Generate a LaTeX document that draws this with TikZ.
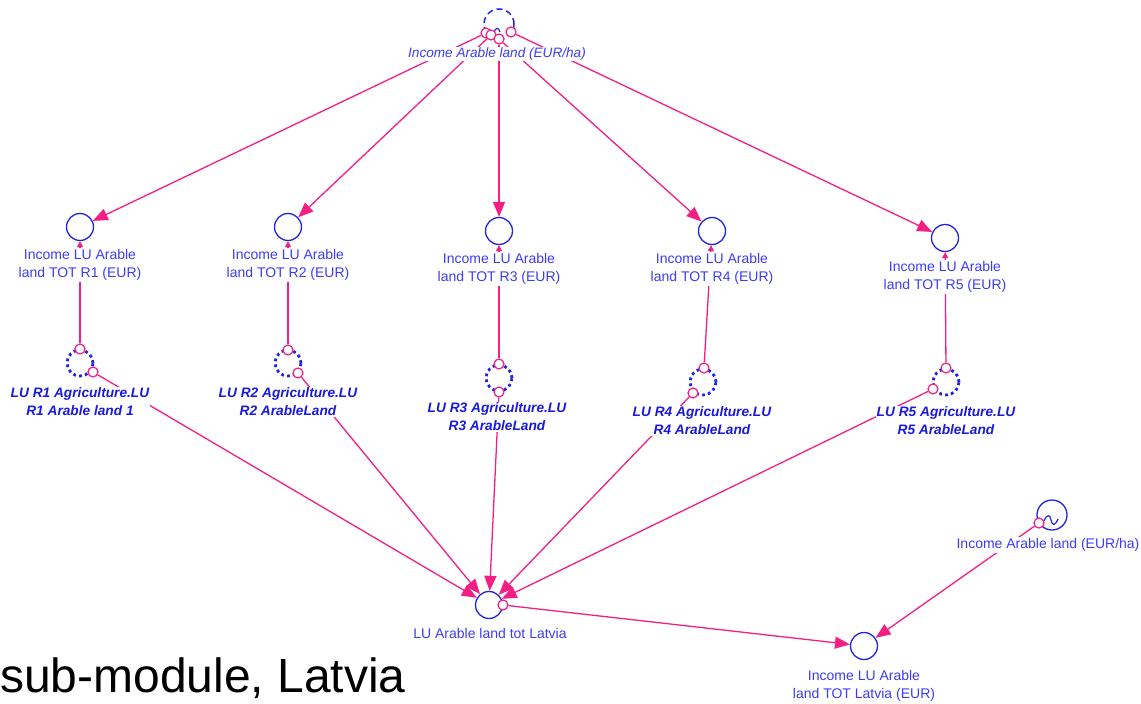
\documentclass[tikz,border=0pt]{standalone}
\usepackage{fontspec}
\setmainfont{Liberation Sans}
\usetikzlibrary{arrows.meta}
\definecolor{pk}{RGB}{245,30,130}
\definecolor{bl}{RGB}{35,35,230}
\definecolor{tx}{RGB}{60,60,250}
\definecolor{tb}{RGB}{25,25,225}
\pgfdeclarelayer{bg}
\pgfsetlayers{bg,main}
\begin{document}
\begin{tikzpicture}[x=1pt,y=-1pt,
  aux/.style={circle,draw=bl,line width=1.3pt,minimum size=27pt,inner sep=0pt},
  dotc/.style={circle,draw=bl,line width=2.8pt,dash pattern=on 2.8pt off 3.2pt,minimum size=26pt,inner sep=0pt},
  dashc/.style={circle,draw=bl,line width=1.5pt,dash pattern=on 6pt off 4pt,minimum size=30pt,inner sep=0pt},
  sc/.style={circle,draw=pk,fill=white,line width=1.2pt,minimum size=10pt,inner sep=0pt},
  lab/.style={fill=white,text=tx,font=\fontsize{14}{18}\selectfont,align=center,inner sep=1pt},
  blab/.style={fill=white,text=tb,font=\fontsize{13.7}{18}\selectfont\bfseries\itshape,align=center,inner sep=1pt},
  conn/.style={draw=pk,line width=1.3pt},
  big/.style={-{Triangle[length=15pt,width=12pt]}},
  small/.style={-{Triangle[length=6pt,width=6pt]}}]
\useasboundingbox (0,0) rectangle (1141,704);

% top node
\node[dashc] (T) at (499,24) {};
\draw[bl,line width=1.2pt] (494,33) .. controls (495,27) and (499,27) .. (500,32);
\node[lab,font=\fontsize{13.6}{16}\selectfont\itshape] (Tl) at (497,54) {Income Arable land (EUR/ha)};
\node[sc] (t1) at (486,33) {};
\node[sc] (t2) at (491,35) {};
\node[sc] (t4) at (511,32) {};
\node[sc] (t3) at (499,39) {};

% aux circles
\node[aux] (A1) at (80,227) {};
\node[aux] (A2) at (288,227) {};
\node[aux] (A3) at (499,231) {};
\node[aux] (A4) at (712,231) {};
\node[aux] (A5) at (945,238) {};
\node[lab] (A1l) at (80,265) {Income LU Arable\\land TOT R1 (EUR)};
\node[lab] (A2l) at (288,265) {Income LU Arable\\land TOT R2 (EUR)};
\node[lab] (A3l) at (499,269) {Income LU Arable\\land TOT R3 (EUR)};
\node[lab] (A4l) at (712,269) {Income LU Arable\\land TOT R4 (EUR)};
\node[lab] (A5l) at (945,277) {Income LU Arable\\land TOT R5 (EUR)};

% dotted circles
\node[dotc] (D1) at (80,363) {};
\node[dotc] (D2) at (288,363) {};
\node[dotc] (D3) at (499,378) {};
\node[dotc] (D4) at (703,382) {};
\node[dotc] (D5) at (946,382) {};
\node[sc] (D1t) at (80,349) {};
\node[sc] (D1o) at (93,372) {};
\node[sc] (D2t) at (288,350) {};
\node[sc] (D2o) at (298,373) {};
\node[sc] (D3t) at (499,364) {};
\node[sc] (D3o) at (499,392) {};
\node[sc] (D4t) at (704,368) {};
\node[sc] (D4o) at (693,393) {};
\node[sc] (D5t) at (946,368) {};
\node[sc] (D5o) at (933,389) {};
\node[blab] (D1l) at (80,402) {LU R1 Agriculture.LU\\R1 Arable land 1};
\node[blab] (D2l) at (288,402) {LU R2 Agriculture.LU\\R2 ArableLand};
\node[blab] (D3l) at (497,417) {LU R3 Agriculture.LU\\R3 ArableLand};
\node[blab] (D4l) at (702,421) {LU R4 Agriculture.LU\\R4 ArableLand};
\node[blab] (D5l) at (946,421) {LU R5 Agriculture.LU\\R5 ArableLand};

% totals
\node[aux] (L) at (489,605) {};
\node[sc] (Lo) at (503,605) {};
\node[lab] (Ll) at (490,633) {LU Arable land tot Latvia};
\node[aux] (E) at (864,646) {};
\node[lab] (El) at (864,686) {Income LU Arable\\land TOT Latvia (EUR)};
\node[aux,minimum size=30pt] (B) at (1052,515) {};
\draw[bl,line width=1.2pt] (1044,521) .. controls (1047,514) and (1050,514) .. (1051,520) .. controls (1052,526) and (1055,526) .. (1058,519);
\node[sc] (Bo) at (1039,523) {};
\node[lab] (Bl) at (1048,545) {Income Arable land (EUR/ha)};

% big caption
\node[anchor=base west,inner sep=0pt,font=\fontsize{48}{52}\selectfont] (cap) at (0,692) {sub-module, Latvia};

\begin{pgfonlayer}{bg}
\draw[conn,big] (t1) -- (A1);
\draw[conn,big] (t2) -- (A2);
\draw[conn,big] (t3) -- (A3);
\draw[conn,big] (t3) -- (A4);
\draw[conn,big] (t4) -- (A5);
\draw[conn,small] (D1t) -- (A1);
\draw[conn,small] (D2t) -- (A2);
\draw[conn,small] (D3t) -- (A3);
\draw[conn,small] (D4t) -- (A4);
\draw[conn,small] (D5t) -- (A5);
\draw[conn,big] (D1o) -- (L);
\draw[conn,big] (D2o) -- (L);
\draw[conn,big] (D3o) -- (L);
\draw[conn,big] (D4o) -- (L);
\draw[conn,big] (D5o) -- (L);
\draw[conn,big] (Lo) -- (E);
\draw[conn,big] (Bo) -- (E);
\end{pgfonlayer}
\end{tikzpicture}
\end{document}
